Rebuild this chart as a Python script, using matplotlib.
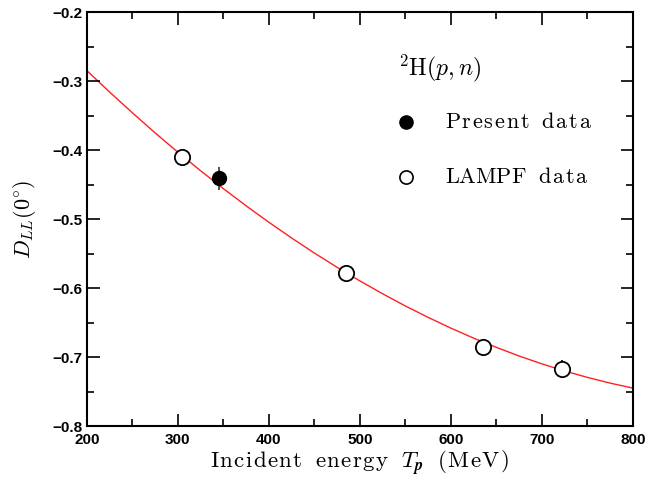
import matplotlib
matplotlib.use("Agg")
import matplotlib.pyplot as plt
from matplotlib.ticker import MultipleLocator

plt.rcParams['mathtext.fontset'] = 'cm'

# Data
present_E = [345]
present_D = [-0.441]
present_err = [0.017]

lampf_E = [305, 485, 635, 722]
lampf_D = [-0.410, -0.578, -0.686, -0.717]
lampf_err = [0.008, 0.008, 0.012, 0.013]

curve_E = [200, 225, 250, 275, 300, 325, 350, 375, 400, 425, 450, 475, 500,
           525, 550, 575, 600, 625, 650, 675, 700, 725, 750, 775, 800]
curve_D = [-0.285, -0.3161, -0.3461, -0.3752, -0.4032, -0.4301, -0.4560,
           -0.4809, -0.5047, -0.5275, -0.5493, -0.5700, -0.5897, -0.6083,
           -0.6260, -0.6425, -0.6581, -0.6726, -0.6860, -0.6985, -0.7099,
           -0.7202, -0.7295, -0.7378, -0.745]


def spaced(word, gap=0.09):
    """Letter-spaced roman mathtext for a word."""
    return (r'\hspace{%g}' % gap).join(r'\mathrm{%s}' % c for c in word)


SP = r'\ \ '

fig = plt.figure(figsize=(6.49, 4.83), dpi=100)
ax = fig.add_axes([0.134, 0.118, 0.841, 0.857])

ax.plot(curve_E, curve_D, color='#ff2020', lw=1.0, zorder=1)
ax.errorbar(lampf_E, lampf_D, yerr=lampf_err, fmt='o', ms=11, mfc='white',
            mec='black', mew=1.3, ecolor='black', elinewidth=1.2, capsize=0, zorder=3)
ax.errorbar(present_E, present_D, yerr=present_err, fmt='o', ms=10, mfc='black',
            mec='black', ecolor='#333333', elinewidth=1.2, capsize=0, zorder=3)

ax.set_xlim(200, 800)
ax.set_ylim(-0.8, -0.2)
ax.xaxis.set_major_locator(MultipleLocator(100))
ax.xaxis.set_minor_locator(MultipleLocator(50))
ax.yaxis.set_major_locator(MultipleLocator(0.1))
ax.yaxis.set_minor_locator(MultipleLocator(0.05))
ax.tick_params(which='both', direction='in', top=True, right=True, width=1.2)
ax.tick_params(which='major', length=9, labelsize=11)
ax.tick_params(which='minor', length=5)
ax.tick_params(axis='x', pad=5)
for s in ax.spines.values():
    s.set_linewidth(1.5)

ax.set_xticklabels([f'{int(v)}' for v in ax.get_xticks()], fontweight='bold', family='Liberation Sans')
ax.set_yticklabels([f'{v:.1f}'.replace('-', '\u2212') for v in ax.get_yticks()],
                   fontweight='bold', family='Liberation Sans')

xlabel = ('$' + spaced('Incident', 0.07) + SP + spaced('energy', 0.07) + SP + r'T_{\boldsymbol{p}}' + SP
          + spaced('(MeV)', 0.07) + '$')
ax.set_xlabel(xlabel, fontsize=16.5, labelpad=1)
ax.set_ylabel(r'$D_{LL}(0^{\circ})$', fontsize=16, labelpad=10)

# Legend-like annotations
ax.text(0.570, 0.865, r'$^{\mathbf{2}}\mathrm{H}(p,n)$', transform=ax.transAxes,
        fontsize=17, va='center', ha='left')
ax.plot([0.584], [0.734], transform=ax.transAxes, marker='o', ms=9.5, mfc='black',
        mec='black', clip_on=False)
ax.text(0.656, 0.734, '$' + spaced('Present') + SP + spaced('data') + '$', transform=ax.transAxes,
        fontsize=16, va='center', ha='left')
ax.plot([0.584], [0.601], transform=ax.transAxes, marker='o', ms=9.5, mfc='white',
        mec='black', mew=1.2, clip_on=False)
ax.text(0.656, 0.601, '$' + spaced('LAMPF', 0.0) + SP + spaced('data') + '$', transform=ax.transAxes,
        fontsize=16, va='center', ha='left')

fig.savefig('out.png', dpi=100)
